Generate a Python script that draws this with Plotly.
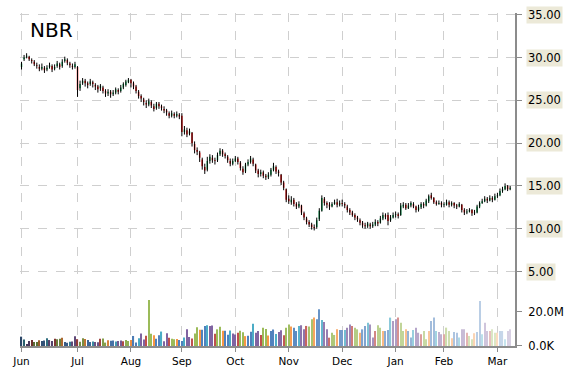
import numpy as np
import plotly.graph_objects as go

TICKER = "NBR"
MONTHS = ["Jun", "Jul", "Aug", "Sep", "Oct", "Nov", "Dec", "Jan", "Feb", "Mar"]
DAYS_PER_MONTH = [22, 21, 20, 21, 21, 21, 21, 19, 21, 6]

OPEN = [
    # Jun
    28.9, 29.8, 30.1, 30.1, 29.7, 29.5, 29.1, 28.9, 28.7, 28.8, 28.6, 28.9, 29.0, 28.7, 29.0, 29.2, 29.0, 29.6, 29.7, 29.3, 29.0, 28.9,
    # Jul
    28.9, 26.4, 27.0, 27.3, 27.0, 26.9, 27.1, 26.8, 26.6, 26.4, 26.5, 26.1, 25.8, 26.0, 25.7, 25.9, 26.2, 26.1, 26.5, 26.8, 27.1,
    # Aug
    27.4, 27.0, 26.6, 26.0, 25.5, 25.1, 24.7, 24.5, 24.8, 24.3, 24.1, 24.6, 24.3, 24.0, 23.8, 23.5, 23.2, 23.4, 23.2, 23.3,
    # Sep
    23.2, 21.3, 21.5, 21.1, 21.2, 19.9, 19.2, 18.9, 18.1, 17.2, 16.9, 17.9, 18.3, 18.0, 18.0, 18.7, 19.1, 18.7, 18.4, 17.9, 17.6,
    # Oct
    17.9, 18.2, 17.7, 17.0, 16.7, 17.5, 17.8, 18.1, 17.5, 16.8, 16.4, 16.6, 16.2, 16.0, 16.3, 16.9, 17.2, 16.7, 16.3, 15.4, 14.6,
    # Nov
    13.5, 13.1, 13.4, 12.9, 12.6, 12.7, 11.8, 11.2, 10.8, 10.5, 10.2, 10.2, 11.1, 12.1, 13.5, 13.0, 12.8, 12.6, 12.9, 13.1, 12.8,
    # Dec
    13.0, 12.9, 12.6, 12.2, 11.9, 11.6, 11.3, 11.0, 10.7, 10.4, 10.3, 10.5, 10.3, 10.5, 10.8, 10.7, 11.2, 11.6, 11.6, 11.0, 11.3,
    # Jan
    11.6, 11.7, 11.6, 12.6, 12.8, 12.4, 12.7, 12.9, 12.6, 12.2, 12.5, 12.9, 12.7, 13.2, 13.9, 13.6, 13.1, 12.9, 13.0,
    # Feb
    12.8, 12.8, 13.1, 12.8, 13.0, 12.7, 12.6, 12.8, 12.2, 11.9, 12.0, 12.2, 11.8, 11.9, 12.6, 13.0, 13.2, 13.5, 13.3, 13.6, 13.4,
    # Mar
    13.8, 13.9, 14.4, 14.6, 15.0, 14.6,
]

HIGH = [
    29.5, 30.3, 30.5, 30.2, 29.9, 29.7, 29.4, 29.2, 29.3, 29.0, 29.1, 29.4, 29.2, 29.2, 29.6, 29.4, 29.8, 30.1, 29.9, 29.5, 29.3, 29.5,
    29.0, 27.3, 27.6, 27.5, 27.2, 27.5, 27.3, 27.0, 26.8, 26.9, 26.7, 26.3, 26.3, 26.2, 26.2, 26.5, 26.4, 26.8, 27.1, 27.4, 27.6,
    27.5, 27.2, 26.8, 26.2, 25.7, 25.3, 25.0, 25.2, 25.0, 24.6, 24.8, 24.8, 24.5, 24.3, 24.0, 23.7, 23.8, 23.6, 23.7, 23.5,
    23.5, 22.0, 21.8, 21.7, 21.3, 20.2, 19.5, 19.1, 18.3, 17.6, 18.4, 18.7, 18.6, 18.3, 18.9, 19.4, 19.3, 18.9, 18.6, 18.2, 18.2,
    18.5, 18.4, 17.9, 17.3, 17.7, 18.1, 18.5, 18.3, 17.6, 17.0, 16.9, 16.8, 16.4, 16.6, 17.1, 17.7, 17.4, 16.9, 16.4, 15.6, 14.7,
    13.9, 13.8, 13.6, 13.1, 13.2, 12.8, 12.0, 11.4, 11.0, 10.7, 10.5, 11.3, 12.4, 13.9, 13.7, 13.2, 13.1, 13.1, 13.4, 13.5, 13.3,
    13.4, 13.1, 12.8, 12.4, 12.1, 11.8, 11.5, 11.2, 10.9, 10.7, 10.8, 10.7, 10.8, 11.1, 11.0, 11.5, 11.9, 11.8, 11.9, 11.6, 11.9,
    12.0, 11.9, 13.0, 13.1, 13.0, 13.0, 13.2, 13.1, 12.7, 12.8, 13.1, 13.1, 13.5, 14.0, 14.2, 13.7, 13.3, 13.3, 13.2,
    13.1, 13.4, 13.3, 13.2, 13.1, 12.9, 13.1, 12.9, 12.4, 12.3, 12.4, 12.3, 12.2, 12.8, 13.2, 13.5, 13.8, 13.7, 13.9, 13.8, 14.1,
    14.2, 14.7, 14.9, 15.3, 15.1, 15.0,
]

LOW = [
    28.6, 29.6, 29.9, 29.6, 29.3, 29.0, 28.7, 28.4, 28.5, 28.2, 28.4, 28.7, 28.3, 28.5, 28.8, 28.6, 28.8, 29.4, 29.1, 28.8, 28.6, 28.7,
    25.4, 26.1, 26.8, 26.6, 26.4, 26.7, 26.5, 26.2, 25.9, 26.1, 25.8, 25.4, 25.5, 25.3, 25.5, 25.7, 25.7, 25.9, 26.3, 26.6, 27.0,
    26.5, 26.3, 25.8, 25.2, 24.8, 24.4, 24.1, 24.3, 24.1, 23.7, 23.9, 24.0, 23.8, 23.5, 23.2, 22.9, 23.0, 22.9, 23.0, 22.8,
    20.8, 21.0, 20.7, 20.9, 19.6, 18.8, 18.6, 17.8, 16.9, 16.4, 16.7, 17.6, 17.7, 17.5, 17.8, 18.5, 18.4, 18.2, 17.7, 17.3, 17.4,
    17.8, 17.5, 16.8, 16.3, 16.5, 17.3, 17.6, 17.3, 16.5, 16.0, 16.1, 15.9, 15.7, 15.8, 16.1, 16.7, 16.4, 16.1, 15.1, 14.5, 13.1,
    12.9, 12.8, 12.6, 12.3, 12.4, 11.6, 11.0, 10.5, 10.2, 9.9, 9.8, 10.0, 10.9, 12.0, 12.7, 12.4, 12.2, 12.5, 12.8, 12.5, 12.6,
    12.6, 12.4, 11.9, 11.6, 11.4, 11.0, 10.8, 10.4, 10.1, 10.0, 10.1, 10.0, 10.1, 10.3, 10.3, 10.6, 11.0, 11.1, 10.4, 10.8, 11.2,
    11.3, 11.2, 11.5, 12.4, 12.2, 12.3, 12.5, 12.4, 11.9, 12.0, 12.3, 12.4, 12.6, 13.0, 13.4, 12.9, 12.7, 12.8, 12.5,
    12.5, 12.7, 12.5, 12.6, 12.4, 12.3, 12.5, 11.9, 11.6, 11.7, 11.9, 11.5, 11.6, 11.8, 12.4, 12.9, 13.1, 13.0, 13.2, 13.1, 13.3,
    13.6, 13.8, 14.2, 14.5, 14.4, 14.5,
]

CLOSE = [
    29.3, 30.0, 30.2, 29.8, 29.6, 29.2, 29.0, 28.7, 28.9, 28.5, 28.8, 29.1, 28.6, 28.9, 29.3, 28.9, 29.5, 29.8, 29.4, 29.1, 28.9, 29.2,
    26.2, 26.9, 27.3, 27.0, 26.8, 27.2, 26.9, 26.6, 26.3, 26.7, 26.1, 25.8, 26.0, 25.7, 25.9, 26.3, 26.0, 26.5, 26.9, 27.2, 27.4,
    27.0, 26.6, 26.1, 25.5, 25.2, 24.8, 24.5, 24.9, 24.4, 24.0, 24.6, 24.3, 24.1, 23.8, 23.6, 23.2, 23.5, 23.2, 23.4, 23.1,
    21.3, 21.6, 21.0, 21.4, 20.0, 19.2, 19.0, 18.3, 17.3, 16.8, 17.9, 18.4, 18.0, 17.9, 18.6, 19.1, 18.7, 18.5, 18.0, 17.6, 17.9,
    18.2, 17.8, 17.1, 16.6, 17.5, 17.8, 18.2, 17.6, 16.8, 16.4, 16.6, 16.2, 16.0, 16.3, 16.9, 17.3, 16.7, 16.5, 15.4, 14.8, 13.4,
    13.2, 13.4, 12.9, 12.6, 12.9, 11.9, 11.3, 10.8, 10.5, 10.2, 10.1, 11.0, 12.1, 13.6, 13.0, 12.8, 12.6, 12.9, 13.1, 12.8, 13.0,
    12.9, 12.7, 12.2, 11.9, 11.6, 11.3, 11.1, 10.7, 10.4, 10.3, 10.6, 10.3, 10.5, 10.8, 10.6, 11.2, 11.6, 11.4, 10.9, 11.3, 11.6,
    11.7, 11.5, 12.7, 12.8, 12.4, 12.7, 13.0, 12.6, 12.2, 12.5, 12.9, 12.7, 13.3, 13.8, 13.6, 13.1, 12.9, 13.0, 12.8,
    12.9, 13.1, 12.8, 13.0, 12.7, 12.6, 12.9, 12.2, 11.9, 12.0, 12.2, 11.8, 11.9, 12.6, 13.0, 13.2, 13.5, 13.3, 13.6, 13.4, 13.8,
    13.9, 14.4, 14.6, 15.0, 14.6, 14.8,
]

VOLUME_M = [
    5.5, 3.8, 1.2, 3.0, 3.6, 2.4, 2.3, 3.4, 3.0, 3.2, 4.6, 3.5, 3.0, 4.3, 4.0, 4.3, 4.8, 2.4, 1.9, 2.5, 2.6, 5.8,
    4.0, 2.5, 4.6, 4.1, 3.6, 2.4, 2.6, 2.3, 2.2, 4.3, 4.4, 2.0, 3.4, 3.1, 3.2, 2.6, 3.0, 3.3, 2.8, 3.5, 3.0,
    3.6, 5.9, 2.1, 4.6, 7.3, 3.8, 6.0, 27.0, 7.2, 6.3, 4.2, 6.3, 8.5, 2.8, 7.5, 4.8, 4.3, 4.0, 4.1, 3.6,
    3.0, 5.0, 9.8, 5.3, 4.4, 7.4, 11.0, 9.6, 9.6, 11.7, 12.2, 11.8, 12.0, 7.2, 9.8, 11.3, 8.9, 9.0, 6.6, 9.1, 7.4,
    6.7, 7.8, 9.0, 8.1, 5.8, 6.1, 8.4, 13.1, 7.8, 8.8, 6.4, 10.8, 10.0, 6.2, 8.8, 9.7, 7.0, 8.3, 9.2, 6.3, 10.8,
    12.7, 11.4, 10.8, 8.8, 11.8, 12.2, 9.8, 11.8, 11.4, 15.7, 16.7, 15.7, 21.6, 15.3, 14.1, 9.8, 4.9, 7.8, 6.5, 9.8, 9.4,
    9.4, 9.4, 10.8, 12.7, 11.8, 10.8, 9.8, 7.8, 9.8, 11.8, 13.7, 12.7, 5.0, 8.8, 12.2, 10.8, 8.8, 8.8, 9.4, 16.7, 14.7,
    15.7, 16.7, 13.7, 8.8, 9.8, 8.8, 5.0, 9.4, 10.8, 7.8, 6.9, 8.8, 4.0, 8.8, 14.7, 16.7, 8.8, 8.2, 6.9,
    6.9, 10.8, 8.8, 4.5, 8.2, 7.8, 5.0, 9.8, 9.8, 7.8, 5.9, 4.0, 7.5, 8.2, 26.5, 6.9, 13.7, 8.8, 8.8, 9.8, 7.8,
    7.8, 8.8, 8.8, 4.0, 8.8, 9.8,
]

PRICE_TICKS = [5, 10, 15, 20, 25, 30, 35]
VOL_TICKS = [0, 20]
VOL_TICK_TEXT = ["0.0K", "20.0M"]

# ---------------------------------------------------------------------------
n = len(CLOSE)
x = np.arange(n)
month_starts = np.concatenate([[0], np.cumsum(DAYS_PER_MONTH)[:-1]]).tolist()

# black wicks (low -> high)
wick_x, wick_y = [], []
for i in range(n):
    wick_x += [i, i, None]
    wick_y += [LOW[i], HIGH[i], None]

# volume bar colours: cycling palette, darker early, paler later
PALETTE = [(79, 129, 189), (247, 150, 70), (155, 187, 89),
           (192, 80, 77), (128, 100, 162), (75, 172, 198)]
vcolors = []
for i in range(len(VOLUME_M)):
    r, g, b = PALETTE[(i * 5 + i // 3) % len(PALETTE)]
    t = i / max(1, len(VOLUME_M) - 1)
    if t < 0.25:
        k = 0.45 * (1 - t / 0.25)
        r, g, b = r * (1 - k), g * (1 - k), b * (1 - k)
    elif t > 0.5:
        k = 0.7 * (t - 0.5) / 0.5
        r, g, b = r + (255 - r) * k, g + (255 - g) * k, b + (255 - b) * k
    vcolors.append(f"rgb({int(r)},{int(g)},{int(b)})")

fig = go.Figure()
fig.add_trace(go.Scatter(x=wick_x, y=wick_y, mode="lines",
                         line=dict(color="black", width=1),
                         hoverinfo="skip", xaxis="x", yaxis="y"))
fig.add_trace(go.Candlestick(
    x=x, open=OPEN, high=HIGH, low=LOW, close=CLOSE,
    increasing=dict(fillcolor="#00a651", line=dict(color="#00a651", width=0)),
    decreasing=dict(fillcolor="#ff0000", line=dict(color="#ff0000", width=0)),
    whiskerwidth=0, xaxis="x", yaxis="y"))
fig.add_trace(go.Bar(x=x[:len(VOLUME_M)], y=VOLUME_M, width=0.45,
                     marker=dict(color=vcolors, line=dict(width=0)),
                     xaxis="x", yaxis="y2"))

GRID = "#cfcfcf"
AXIS = "#8c8c8c"
fig.update_layout(
    template="none",
    width=570, height=370,
    margin=dict(l=20, r=55, t=13, b=24, autoexpand=False),
    paper_bgcolor="white", plot_bgcolor="white",
    showlegend=False,
    boxgap=0.25, boxgroupgap=0.25,
    font=dict(family="DejaVu Sans", size=11, color="black"),
    xaxis=dict(range=[-0.6, n + 0.9], tickmode="array", tickvals=month_starts,
               ticktext=MONTHS, showgrid=True, gridcolor=GRID, griddash="dash",
               gridwidth=1, ticks="outside", ticklen=4, tickcolor=AXIS,
               showline=True, linecolor=AXIS, linewidth=2, zeroline=False,
               anchor="y2", rangeslider=dict(visible=False), automargin=False,
               tickfont=dict(size=10.5)),
    yaxis=dict(domain=[0.138, 1], range=[1.67, 35.2], side="right", anchor="x",
               tickmode="array", tickvals=PRICE_TICKS, showticklabels=False,
               ticks="outside", ticklen=5, tickcolor=AXIS, showline=True,
               linecolor=AXIS, linewidth=2, showgrid=True, gridcolor=GRID,
               griddash="dash", zeroline=False, automargin=False),
    yaxis2=dict(domain=[0, 0.168], range=[0, 32.9], side="right", anchor="x",
                tickmode="array", tickvals=VOL_TICKS, ticktext=VOL_TICK_TEXT,
                ticks="outside", ticklen=5, tickcolor=AXIS, showline=True,
                linecolor=AXIS, linewidth=2, showgrid=False, zeroline=False,
                ticklabelstandoff=4, automargin=False,
                tickfont=dict(size=11.5)),
)

for v in PRICE_TICKS:
    fig.add_annotation(text=f"{v:.2f}", xref="paper", x=1, xanchor="left",
                       xshift=11, yref="y", y=v, yanchor="middle",
                       showarrow=False, bgcolor="#ece9d8", borderpad=1,
                       font=dict(size=11.5, color="black"))

fig.add_annotation(text=TICKER, xref="paper", x=0.016, xanchor="left",
                   yref="paper", y=0.949, yanchor="middle", showarrow=False,
                   font=dict(size=20, color="black"))

fig.write_html("out.html")
